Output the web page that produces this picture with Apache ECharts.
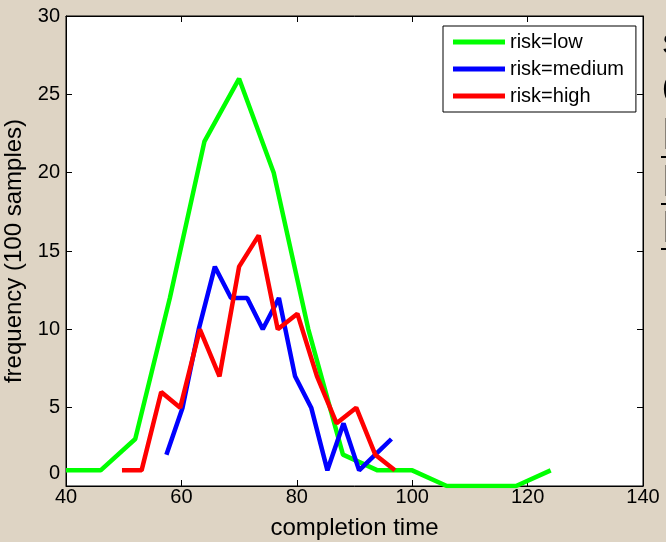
<!DOCTYPE html>
<html>
<head>
<meta charset="utf-8">
<script src="https://cdn.jsdelivr.net/npm/echarts@6/dist/echarts.min.js"></script>
<style>
html,body{margin:0;padding:0;background:#DED4C4;}
#c{width:666px;height:542px;}
</style>
</head>
<body>
<div id="c"></div>
<script>
const seriesNames = ['risk=low', 'risk=medium', 'risk=high'];
const lowX = [40, 46, 52, 58, 64, 70, 76, 82, 88, 94, 100, 106, 112, 118, 124];
const lowY = [1, 1, 3, 12, 22, 26, 20, 10, 2, 1, 1, 0, 0, 0, 1];
const medX = [57.4, 60.2, 63.0, 65.8, 68.6, 71.4, 74.1, 76.9, 79.7, 82.5, 85.3, 88.1, 90.8, 93.6, 96.4];
const medY = [2, 5, 10, 14, 12, 12, 10, 12, 7, 5, 1, 4, 1, 2, 3];
const highX = [49.7, 53.1, 56.5, 59.8, 63.2, 66.6, 70.0, 73.4, 76.7, 80.1, 83.5, 86.9, 90.3, 93.6, 97.0];
const highY = [1, 1, 6, 5, 10, 7, 14, 16, 10, 11, 7, 4, 5, 2, 1];
const xTitle = 'completion time';
const yTitle = 'frequency (100 samples)';
const sideTexts = ['S', '(', 'L', 'L', 'L'];

const FONT = "'Liberation Sans', Arial, sans-serif";
const colors = ['#00FF00', '#0000FF', '#FF0000'];
const pairs = (xs, ys) => xs.map((x, i) => [x, ys[i]]);

const chart = echarts.init(document.getElementById('c'));
const axisCommon = {
  axisLine: {show: true, onZero: false, lineStyle: {color: '#000', width: 1}},
  axisTick: {show: true, inside: true, length: 6, lineStyle: {color: '#000'}},
  splitLine: {show: false}
};
chart.setOption({
  backgroundColor: '#DED4C4',
  animation: false,
  grid: {left: 66, right: 23, top: 16, bottom: 56, containLabel: false, outerBoundsMode: 'none',
    show: true, backgroundColor: '#fff', borderColor: '#000', borderWidth: 1},
  legend: {
    data: seriesNames,
    orient: 'vertical',
    left: 443, top: 26,
    padding: [6, 12, 6, 10],
    itemGap: 7,
    itemWidth: 52, itemHeight: 5,
    icon: 'rect',
    backgroundColor: '#fff',
    borderColor: '#000', borderWidth: 1, borderRadius: 0,
    textStyle: {fontFamily: FONT, fontSize: 20, color: '#000', padding: [0, 0, 0, 0]}
  },
  xAxis: [
    Object.assign({}, axisCommon, {
      type: 'value', min: 40, max: 140, interval: 20, position: 'bottom',
      name: xTitle, nameLocation: 'middle', nameGap: 30,
      nameTextStyle: {fontFamily: FONT, fontSize: 24, color: '#000'},
      axisLabel: {fontFamily: FONT, fontSize: 20, color: '#000', margin: 1}
    }),
    Object.assign({}, axisCommon, {
      type: 'value', min: 40, max: 140, interval: 20, position: 'top',
      axisLabel: {show: false}
    })
  ],
  yAxis: [
    Object.assign({}, axisCommon, {
      type: 'value', min: 0, max: 30, interval: 5, position: 'left',
      name: yTitle, nameLocation: 'middle', nameGap: 31,
      nameTextStyle: {fontFamily: FONT, fontSize: 24, color: '#000'},
      axisLabel: {
        fontFamily: FONT, fontSize: 20, color: '#000', margin: 6,
        formatter: v => v === 0 ? '{z|0}' : String(v),
        rich: {z: {fontFamily: FONT, fontSize: 20, color: '#000', padding: [0, 0, 26, 0]}}
      }
    }),
    Object.assign({}, axisCommon, {
      type: 'value', min: 0, max: 30, interval: 5, position: 'right',
      axisLabel: {show: false}
    })
  ],
  series: [
    {name: seriesNames[0], type: 'line', data: pairs(lowX, lowY), showSymbol: false, symbol: 'none', color: colors[0], lineStyle: {width: 4.5, color: colors[0]}, z: 2},
    {name: seriesNames[1], type: 'line', data: pairs(medX, medY), showSymbol: false, symbol: 'none', color: colors[1], lineStyle: {width: 4.5, color: colors[1]}, z: 3},
    {name: seriesNames[2], type: 'line', data: pairs(highX, highY), showSymbol: false, symbol: 'none', color: colors[2], lineStyle: {width: 4.5, color: colors[2]}, z: 4}
  ],
  graphic: [
    {type: 'text', left: 662, top: 31, style: {text: sideTexts[0], font: "30px 'Liberation Sans', Arial", fill: '#000'}},
    {type: 'text', left: 662, top: 74, style: {text: sideTexts[1], font: "30px 'Liberation Sans', Arial", fill: '#000'}},
    {type: 'text', left: 662, top: 115, style: {text: sideTexts[2], font: "44px 'Liberation Sans', Arial", fill: '#000'}},
    {type: 'rect', shape: {x: 661, y: 156, width: 7, height: 2}, style: {fill: '#000'}},
    {type: 'text', left: 662, top: 162, style: {text: sideTexts[3], font: "44px 'Liberation Sans', Arial", fill: '#000'}},
    {type: 'rect', shape: {x: 661, y: 203, width: 7, height: 2}, style: {fill: '#000'}},
    {type: 'text', left: 662, top: 208, style: {text: sideTexts[4], font: "44px 'Liberation Sans', Arial", fill: '#000'}},
    {type: 'rect', shape: {x: 661, y: 248, width: 7, height: 2}, style: {fill: '#000'}}
  ]
});
</script>
</body>
</html>
